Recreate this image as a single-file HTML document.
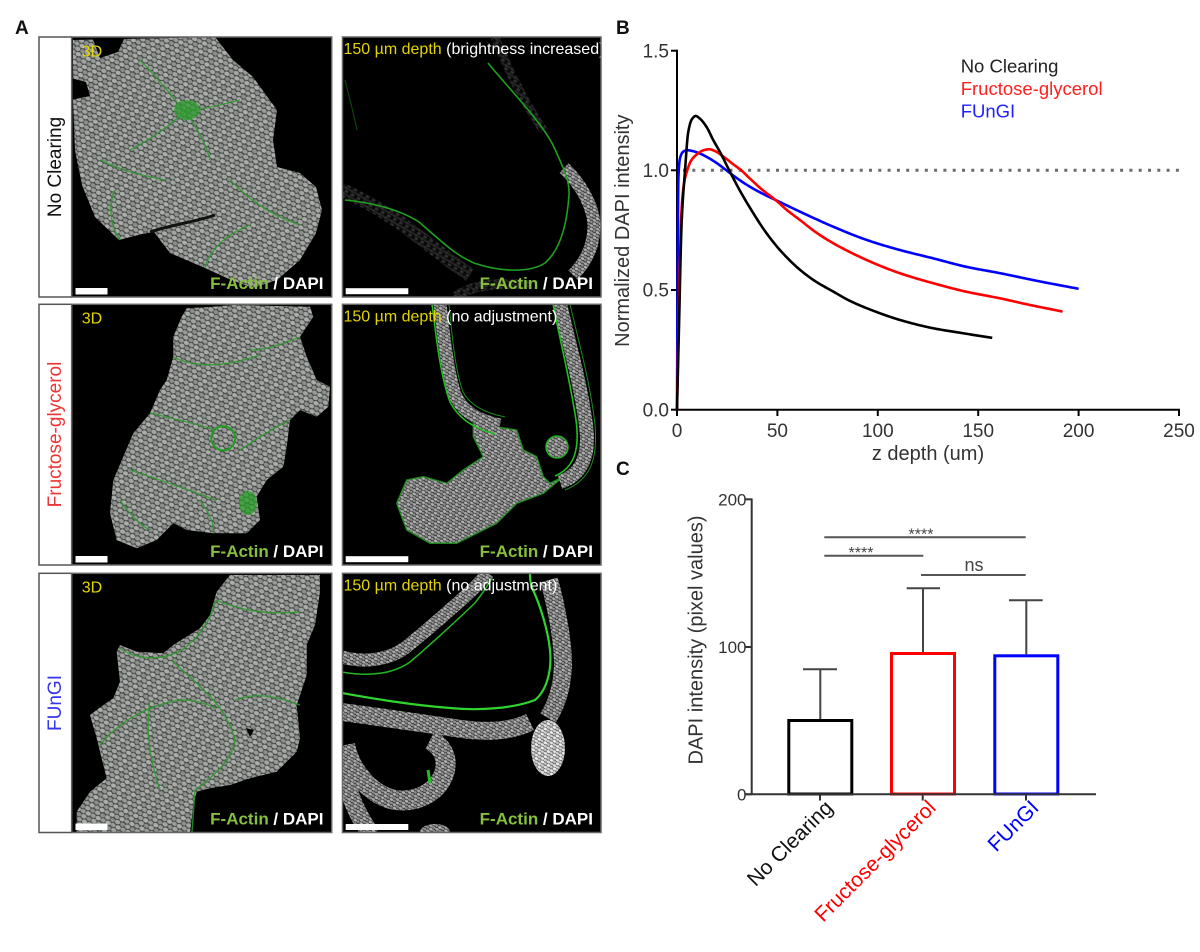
<!DOCTYPE html>
<html><head><meta charset="utf-8">
<style>
html,body{margin:0;padding:0;background:#fff;}
svg{display:block;}
text{font-family:"Liberation Sans",Arial,sans-serif;}
</style></head><body>
<svg width="1200" height="952" viewBox="0 0 1200 952" xmlns="http://www.w3.org/2000/svg">
<defs>
<pattern id="nuc" width="11" height="9" patternUnits="userSpaceOnUse" patternTransform="rotate(25)">
<rect width="11" height="9" fill="#424b42"/>
<ellipse cx="3" cy="2.4" rx="2.8" ry="2.1" fill="#a4a4a4"/>
<ellipse cx="8.6" cy="2.6" rx="2.4" ry="2" fill="#8e8e8e"/>
<ellipse cx="0.2" cy="6.9" rx="2.6" ry="2" fill="#9a9a9a"/>
<ellipse cx="11.2" cy="6.9" rx="2.6" ry="2" fill="#9a9a9a"/>
<ellipse cx="5.8" cy="7" rx="2.7" ry="2.1" fill="#acacac"/>
</pattern>
<pattern id="nuc2" width="7" height="6" patternUnits="userSpaceOnUse" patternTransform="rotate(30)">
<rect width="7" height="6" fill="#262626"/>
<ellipse cx="2" cy="1.6" rx="1.9" ry="1.4" fill="#a6a6a6"/>
<ellipse cx="5.5" cy="1.7" rx="1.6" ry="1.3" fill="#8e8e8e"/>
<ellipse cx="3.7" cy="4.6" rx="1.9" ry="1.4" fill="#b0b0b0"/>
<ellipse cx="0" cy="4.6" rx="1.4" ry="1.3" fill="#909090"/>
<ellipse cx="7" cy="4.6" rx="1.4" ry="1.3" fill="#909090"/>
</pattern>
<pattern id="nucB" width="7" height="6" patternUnits="userSpaceOnUse" patternTransform="rotate(30)">
<rect width="7" height="6" fill="#555"/>
<ellipse cx="2" cy="1.6" rx="1.9" ry="1.4" fill="#e0e0e0"/>
<ellipse cx="5.5" cy="1.7" rx="1.6" ry="1.3" fill="#cfcfcf"/>
<ellipse cx="3.7" cy="4.6" rx="1.9" ry="1.4" fill="#ececec"/>
<ellipse cx="0" cy="4.6" rx="1.4" ry="1.3" fill="#c8c8c8"/>
<ellipse cx="7" cy="4.6" rx="1.4" ry="1.3" fill="#c8c8c8"/>
</pattern>
<pattern id="nucD" width="7" height="6" patternUnits="userSpaceOnUse" patternTransform="rotate(30)">
<rect width="7" height="6" fill="#080808"/>
<ellipse cx="2" cy="1.6" rx="1.9" ry="1.4" fill="#2a2a2a"/>
<ellipse cx="5.5" cy="1.7" rx="1.6" ry="1.3" fill="#222"/>
<ellipse cx="3.7" cy="4.6" rx="1.9" ry="1.4" fill="#303030"/>
</pattern>
</defs>

<!-- Panel letters -->
<text x="15" y="34" font-size="19" font-weight="bold" fill="#111">A</text>
<text x="616" y="34" font-size="19" font-weight="bold" fill="#111">B</text>
<text x="616" y="475" font-size="19" font-weight="bold" fill="#111">C</text>

<!-- ===== Panel A ===== -->
<rect x="39" y="37" width="32.7" height="260" fill="#fff" stroke="#555" stroke-width="1.5"/>
<rect x="39" y="304.3" width="32.7" height="260.7" fill="#fff" stroke="#555" stroke-width="1.5"/>
<rect x="39" y="573.3" width="32.7" height="259.2" fill="#fff" stroke="#555" stroke-width="1.5"/>
<text transform="translate(61,167) rotate(-90)" text-anchor="middle" font-size="19" fill="#111">No Clearing</text>
<text transform="translate(61,434.5) rotate(-90)" text-anchor="middle" font-size="19" fill="#ee3535">Fructose-glycerol</text>
<text transform="translate(61,703) rotate(-90)" text-anchor="middle" font-size="19" fill="#3535ee">FUnGI</text>

<!-- Row 1 image 1 -->
<svg x="71.7" y="37" width="260" height="260" viewBox="71.7 37 260 260">
<rect x="71.7" y="37" width="260" height="260" fill="#000"/>
<path d="M73,40 L215,37 L233,60 L253,77 L277,110 L273,140 L277,167 L300,173 L316,187 L322,210 L316,233 L300,260 L277,280 L253,288 L229,279 L205,268 L170,253 L154,232 L142,234 L119,240 L95,217 L82,185 L75,150 L73,100 Z" fill="url(#nuc)"/>
<path d="M92,37 L125,37 L118,52 L100,58 Z" fill="#000"/>
<path d="M71,78 L86,82 L90,96 L71,100 Z" fill="#000"/>
<path d="M150,232 C170,225 195,222 215,215" stroke="#111" stroke-width="3" fill="none"/>
<ellipse cx="187" cy="110" rx="13" ry="10" fill="#2c9e2c" opacity="0.75"/>
<g stroke="#2a9a2a" stroke-width="1.4" fill="none" opacity="0.85">
<path d="M140,60 C160,80 175,100 185,112 C195,125 205,140 210,160"/>
<path d="M185,112 C170,125 150,140 130,150"/>
<path d="M185,112 C200,110 220,105 240,100"/>
<path d="M100,160 C120,170 140,175 165,180"/>
<path d="M230,180 C250,200 270,215 300,225"/>
<path d="M120,240 C110,225 108,205 115,190"/>
<path d="M205,268 C210,250 225,235 250,225"/>
</g>
</svg>
<rect x="71.7" y="37" width="260" height="260" fill="none" stroke="#666" stroke-width="1.5"/>
<text x="81.7" y="56.3" font-size="16" fill="#e6d600">3D</text>
<text x="323.5" y="289" font-size="17" font-weight="bold" text-anchor="end"><tspan fill="#86c03c">F-Actin</tspan><tspan fill="#fff"> / DAPI</tspan></text>
<rect x="75.5" y="288" width="32" height="6.5" fill="#fff"/>

<!-- Row 1 image 2 -->
<svg x="342.5" y="37" width="258.5" height="260" viewBox="342.5 37 258.5 260">
<rect x="342.5" y="37" width="258.5" height="260" fill="#000"/>
<path d="M342,190 C365,200 390,215 410,230 C430,245 450,262 470,275" stroke="url(#nucD)" stroke-width="14" fill="none"/>
<path d="M455,297 C470,285 500,282 530,285" stroke="url(#nucD)" stroke-width="10" fill="none"/>
<path d="M495,37 C508,70 523,100 543,130" stroke="url(#nucD)" stroke-width="9" fill="none"/>
<path d="M564,168 C580,183 593,205 594,225 C594,245 586,262 573,275" stroke="url(#nuc2)" stroke-width="13" fill="none"/>
<path d="M488,63 C510,90 540,120 553,145 C562,165 570,180 569,195 C567,225 560,250 545,263 C530,273 500,272 474,263 C455,255 440,240 419,222 C400,210 375,203 345,200" stroke="#20a020" stroke-width="1.6" fill="none"/>
<path d="M345,80 C350,100 354,115 357,130" stroke="#105010" stroke-width="1" fill="none"/>
<text x="343.5" y="54" font-size="16"><tspan fill="#e3d400">150 µm depth</tspan><tspan fill="#fff"> (brightness increased)</tspan></text>
</svg>
<rect x="342.5" y="37" width="258.5" height="260" fill="none" stroke="#666" stroke-width="1.5"/>
<text x="593" y="289" font-size="17" font-weight="bold" text-anchor="end"><tspan fill="#86c03c">F-Actin</tspan><tspan fill="#fff"> / DAPI</tspan></text>
<rect x="345.7" y="288.2" width="62.6" height="6" fill="#fff"/>

<!-- Row 2 image 1 -->
<svg x="71.7" y="304.3" width="260" height="260.7" viewBox="71.7 304.3 260 260.7">
<rect x="71.7" y="304.3" width="260" height="260.7" fill="#000"/>
<path d="M186.7,308.3 L213.3,306.7 L233.3,305 L310,306.7 L313.3,316.7 L300,336.7 L306.7,356.7 L316.7,380 L330,386.7 L328.3,406.7 L316.7,416.7 L300,410 L290,420 L286.7,446.7 L283.3,466.7 L266.7,480 L256.7,496.7 L260,520 L246.7,533.3 L213.3,533.3 L186.7,530 L173.3,523.3 L156.7,540 L136.7,548.3 L116.7,540 L110,513.3 L113.3,480 L133.3,433.3 L150,413.3 L160,390 L166.7,380 L173.3,356.7 L173.3,336.7 L181.7,316.7 Z" fill="url(#nuc)"/>
<circle cx="223.3" cy="438.3" r="12" fill="none" stroke="#1f9f1f" stroke-width="2"/>
<ellipse cx="248" cy="503" rx="9" ry="12" fill="#1f9f1f" opacity="0.7"/>
<g stroke="#2a9a2a" stroke-width="1.4" fill="none" opacity="0.85">
<path d="M173,357 C200,370 230,365 260,355"/>
<path d="M150,413 C180,420 200,425 215,430"/>
<path d="M130,470 C160,480 190,490 215,500"/>
<path d="M290,420 C270,430 255,440 240,450"/>
<path d="M200,500 C210,515 215,525 213,533"/>
<path d="M300,337 C280,345 265,350 250,350"/>
<path d="M120,500 C130,515 140,525 150,530"/>
</g>
</svg>
<rect x="71.7" y="304.3" width="260" height="260.7" fill="none" stroke="#666" stroke-width="1.5"/>
<text x="81.7" y="323.6" font-size="16" fill="#e6d600">3D</text>
<text x="323.5" y="557" font-size="17" font-weight="bold" text-anchor="end"><tspan fill="#86c03c">F-Actin</tspan><tspan fill="#fff"> / DAPI</tspan></text>
<rect x="75.5" y="556" width="32" height="6.5" fill="#fff"/>

<!-- Row 2 image 2 -->
<svg x="342.5" y="304.3" width="258.5" height="260.7" viewBox="342.5 304.3 258.5 260.7">
<rect x="342.5" y="304.3" width="258.5" height="260.7" fill="#000"/>
<path d="M473.3,423.3 L516.7,430 L523.3,450 L536.7,456.7 L543.3,476.7 L550,483.3 L563.3,476.7 L543.3,493.3 L516.7,503.3 L496.7,523.3 L476.7,533.3 L456.7,543.3 L430,543.3 L406.7,530 L396.7,503.3 L406.7,480 L423.3,476.7 L446.7,483.3 L463.3,470 L483.3,456.7 L473.3,436.7 Z" fill="url(#nuc2)" stroke="#1d9e1d" stroke-width="1.5" stroke-opacity="0.8"/>
<path d="M440,304 C443,330 447,370 455,395 C462,410 475,420 500,425" stroke="url(#nuc2)" stroke-width="13" fill="none"/>
<path d="M432,304 C436,335 440,375 450,402 C458,417 470,427 495,434" stroke="#22c022" stroke-width="1.5" fill="none"/>
<path d="M449,304 C452,335 455,370 463,392 C470,405 485,413 505,417" stroke="#1a8a1a" stroke-width="1" fill="none"/>
<path d="M560,304 C568,340 580,380 586,425 C590,455 582,475 560,482" stroke="url(#nuc2)" stroke-width="14" fill="none"/>
<path d="M553,304 C560,340 570,380 576,420 C580,450 574,468 555,476" stroke="#22c022" stroke-width="1.6" fill="none"/>
<path d="M570,304 C578,340 590,380 595,425 C598,460 590,480 565,490" stroke="#1a8a1a" stroke-width="1" fill="none"/>
<circle cx="557" cy="447" r="11" fill="url(#nuc2)" stroke="#22b022" stroke-width="1.5"/>
</svg>
<rect x="342.5" y="304.3" width="258.5" height="260.7" fill="none" stroke="#666" stroke-width="1.5"/>
<text x="343.5" y="321.3" font-size="16"><tspan fill="#e3d400">150 µm depth</tspan><tspan fill="#fff"> (no adjustment)</tspan></text>
<text x="593" y="557" font-size="17" font-weight="bold" text-anchor="end"><tspan fill="#86c03c">F-Actin</tspan><tspan fill="#fff"> / DAPI</tspan></text>
<rect x="345.7" y="556.2" width="62.6" height="6" fill="#fff"/>

<!-- Row 3 image 1 -->
<svg x="71.7" y="573.3" width="260" height="259.2" viewBox="71.7 573.3 260 259.2">
<rect x="71.7" y="573.3" width="260" height="259.2" fill="#000"/>
<path d="M230,575 L320,575 L320,591.7 L315,625 L306.7,645 L306.7,675 L296.7,705 L300,738.3 L296.7,751.7 L276.7,771.7 L250,778.3 L230,785 L210,788.3 L196.7,791.7 L193.3,805 L190,833 L76.7,833 L76.7,811.7 L90,791.7 L106.7,778.3 L100,751.7 L96.7,738.3 L90,715 L103.3,705 L113.3,698.3 L120,681.7 L116.7,651.7 L120,645 L136.7,651.7 L163.3,653.3 L173.3,645 L200,628.3 L210,615 L216.7,591.7 Z" fill="url(#nuc)"/>
<path d="M246,728 L254,730 L250,737 Z" fill="#000"/>
<g stroke="#2a9a2a" stroke-width="1.4" fill="none" opacity="0.85">
<path d="M120,648 C135,660 165,662 185,648 C200,635 210,622 216,600"/>
<path d="M172,660 C190,680 225,700 235,740 C232,760 215,775 195,790 L192,832"/>
<path d="M100,745 C120,720 150,705 180,700 C195,700 205,703 215,708"/>
<path d="M235,700 C260,690 285,700 300,705"/>
<path d="M216,600 C240,610 265,615 300,612"/>
<path d="M150,700 C145,730 150,760 160,790"/>
</g>
</svg>
<rect x="71.7" y="573.3" width="260" height="259.2" fill="none" stroke="#666" stroke-width="1.5"/>
<text x="81.7" y="592.6" font-size="16" fill="#e6d600">3D</text>
<text x="323.5" y="824.5" font-size="17" font-weight="bold" text-anchor="end"><tspan fill="#86c03c">F-Actin</tspan><tspan fill="#fff"> / DAPI</tspan></text>
<rect x="75.5" y="823.5" width="32" height="6.5" fill="#fff"/>

<!-- Row 3 image 2 -->
<svg x="342.5" y="573.3" width="258.5" height="259.2" viewBox="342.5 573.3 258.5 259.2">
<rect x="342.5" y="573.3" width="258.5" height="259.2" fill="#000"/>
<path d="M342,657 C360,662 385,662 405,648 C425,632 450,610 470,592 C478,584 484,578 488,573" stroke="url(#nuc2)" stroke-width="13" fill="none"/>
<path d="M342,672 C365,676 390,676 410,662 C430,645 455,622 475,603 C482,594 488,585 492,578" stroke="#22b822" stroke-width="1.5" fill="none"/>
<path d="M342,712 C380,717 420,723 455,728 C485,733 510,732 530,722" stroke="url(#nuc2)" stroke-width="18" fill="none"/>
<path d="M342,693 C370,698 410,705 450,708 C480,711 515,708 535,700 C547,690 552,670 550,650 C548,630 540,605 533,590 C530,583 530,578 530,573" stroke="#2fd42f" stroke-width="2.2" fill="none"/>
<path d="M549,580 C556,605 563,640 563,665 C562,690 556,705 548,718" stroke="url(#nuc2)" stroke-width="18" fill="none"/>
<ellipse cx="548" cy="748" rx="17" ry="28" fill="url(#nucB)"/>
<path d="M345,745 C350,770 370,795 395,800 C420,803 440,790 445,770 C448,755 440,745 430,740" stroke="url(#nuc2)" stroke-width="20" fill="none"/>
<path d="M343,770 C350,800 360,820 372,835" stroke="url(#nuc2)" stroke-width="18" fill="none"/>
<path d="M428,770 L430,783" stroke="#22c022" stroke-width="3" fill="none"/>
<ellipse cx="435" cy="832" rx="15" ry="8" fill="url(#nuc2)"/>
</svg>
<rect x="342.5" y="573.3" width="258.5" height="259.2" fill="none" stroke="#666" stroke-width="1.5"/>
<text x="343.5" y="590.3" font-size="16"><tspan fill="#e3d400">150 µm depth</tspan><tspan fill="#fff"> (no adjustment)</tspan></text>
<text x="593" y="824.5" font-size="17" font-weight="bold" text-anchor="end"><tspan fill="#86c03c">F-Actin</tspan><tspan fill="#fff"> / DAPI</tspan></text>
<rect x="345.7" y="824" width="62.6" height="6" fill="#fff"/>

<!-- ===== Panel B ===== -->
<line x1="683" y1="170.3" x2="1179" y2="170.3" stroke="#6b6b6b" stroke-width="3" stroke-dasharray="3 6.3"/>
<g stroke="#000" stroke-width="2" fill="none">
<line x1="677" y1="49.7" x2="677" y2="410.7"/>
<line x1="676" y1="409.7" x2="1180" y2="409.7"/>
<line x1="671" y1="50.7" x2="677" y2="50.7"/>
<line x1="671" y1="170.3" x2="677" y2="170.3"/>
<line x1="671" y1="290" x2="677" y2="290"/>
<line x1="671" y1="409.7" x2="677" y2="409.7"/>
<line x1="677" y1="409.7" x2="677" y2="416"/>
<line x1="777.4" y1="409.7" x2="777.4" y2="416"/>
<line x1="877.8" y1="409.7" x2="877.8" y2="416"/>
<line x1="978.2" y1="409.7" x2="978.2" y2="416"/>
<line x1="1078.6" y1="409.7" x2="1078.6" y2="416"/>
<line x1="1179" y1="409.7" x2="1179" y2="416"/>
</g>
<g font-size="19" fill="#333" text-anchor="end">
<text x="669" y="57.5">1.5</text>
<text x="669" y="177">1.0</text>
<text x="669" y="296.7">0.5</text>
<text x="669" y="416.4">0.0</text>
</g>
<g font-size="19" fill="#333" text-anchor="middle">
<text x="677" y="437">0</text>
<text x="777.4" y="437">50</text>
<text x="877.8" y="437">100</text>
<text x="978.2" y="437">150</text>
<text x="1078.6" y="437">200</text>
<text x="1179" y="437">250</text>
</g>
<text x="928" y="460" font-size="20" fill="#333" text-anchor="middle">z depth (um)</text>
<text transform="translate(629,230.7) rotate(-90)" font-size="20" fill="#333" text-anchor="middle">Normalized DAPI intensity</text>
<text x="960.7" y="72.7" font-size="18.5" fill="#222">No Clearing</text>
<text x="960.7" y="95" font-size="18.5" fill="#ff2020">Fructose-glycerol</text>
<text x="960.7" y="117.3" font-size="18.5" fill="#2020ff">FUnGI</text>
<path id="cBlue" d="" stroke="#0000ff" stroke-width="2.6" fill="none" stroke-linejoin="round"/>
<path id="cRed" d="" stroke="#ff0000" stroke-width="2.6" fill="none" stroke-linejoin="round"/>
<path id="cBlack" d="" stroke="#000" stroke-width="2.6" fill="none" stroke-linejoin="round"/>

<!-- ===== Panel C ===== -->
<g stroke="#333" stroke-width="2" fill="none">
<line x1="751.7" y1="498.5" x2="751.7" y2="795"/>
<line x1="745" y1="499.3" x2="752" y2="499.3"/>
<line x1="745" y1="647" x2="752" y2="647"/>
<line x1="745" y1="794.3" x2="752" y2="794.3"/>
<line x1="820" y1="794" x2="820" y2="800.5"/>
<line x1="922.7" y1="794" x2="922.7" y2="800.5"/>
<line x1="1026" y1="794" x2="1026" y2="800.5"/>
</g>
<g font-size="17" fill="#333" text-anchor="end">
<text x="746.5" y="505.5">200</text>
<text x="746.5" y="653">100</text>
<text x="746.5" y="800.3">0</text>
</g>
<text transform="translate(702.4,640) rotate(-90)" font-size="20" fill="#333" text-anchor="middle">DAPI intensity (pixel values)</text>
<g stroke="#444" stroke-width="2" fill="none">
<line x1="820.3" y1="719" x2="820.3" y2="669.3"/>
<line x1="803" y1="669.3" x2="837" y2="669.3"/>
<line x1="923" y1="652" x2="923" y2="588.3"/>
<line x1="906.7" y1="588.3" x2="940" y2="588.3"/>
<line x1="1026.3" y1="654.3" x2="1026.3" y2="600.3"/>
<line x1="1009" y1="600.3" x2="1042.7" y2="600.3"/>
</g>
<rect x="788.8" y="720.5" width="63" height="73.5" fill="none" stroke="#000" stroke-width="3"/>
<rect x="891.5" y="653.5" width="63" height="140.5" fill="none" stroke="#ff0000" stroke-width="3"/>
<rect x="994.8" y="655.8" width="63" height="138.2" fill="none" stroke="#0000ff" stroke-width="3"/>
<line x1="745" y1="794.3" x2="1096" y2="794.3" stroke="#333" stroke-width="2"/>
<g stroke="#555" stroke-width="2">
<line x1="824.3" y1="537.3" x2="1025.7" y2="537.3"/>
<line x1="824.3" y1="555.7" x2="923.3" y2="555.7"/>
<line x1="921" y1="575" x2="1025.7" y2="575"/>
</g>
<text x="921" y="539.5" font-size="16" fill="#444" text-anchor="middle">****</text>
<text x="861" y="558" font-size="16" fill="#444" text-anchor="middle">****</text>
<text x="974" y="571" font-size="18" fill="#444" text-anchor="middle">ns</text>
<text x="834" y="809" font-size="21" fill="#111" text-anchor="end" transform="rotate(-45 834 809)">No Clearing</text>
<text x="937" y="809" font-size="21" fill="#ff0000" text-anchor="end" transform="rotate(-45 937 809)">Fructose-glycerol</text>
<text x="1040" y="809" font-size="21" fill="#0000ff" text-anchor="end" transform="rotate(-45 1040 809)">FUnGI</text>
</svg>
<script>
(function(){
var X=function(z){return 677+z*2.008;},Y=function(v){return 409.7-v*239.4;};
function mono(pts){
  var n=pts.length,xs=[],ys=[],d=[],m=[];
  for(var i=0;i<n;i++){xs.push(pts[i][0]);ys.push(pts[i][1]);}
  for(i=0;i<n-1;i++){d.push((ys[i+1]-ys[i])/(xs[i+1]-xs[i]));}
  m[0]=d[0];m[n-1]=d[n-2];
  for(i=1;i<n-1;i++){
    if(d[i-1]*d[i]<=0){m[i]=0;}
    else{var h0=xs[i]-xs[i-1],h1=xs[i+1]-xs[i];var w1=2*h1+h0,w2=h1+2*h0;m[i]=(w1+w2)/(w1/d[i-1]+w2/d[i]);}
  }
  return function(z){
    var k=0;while(k<n-2&&z>xs[k+1])k++;
    var h=xs[k+1]-xs[k],t=(z-xs[k])/h,t2=t*t,t3=t2*t;
    return (2*t3-3*t2+1)*ys[k]+(t3-2*t2+t)*h*m[k]+(-2*t3+3*t2)*ys[k+1]+(t3-t2)*h*m[k+1];
  };
}
function path(pts){
  var f=mono(pts),zEnd=pts[pts.length-1][0],d='M'+X(0).toFixed(2)+','+Y(0).toFixed(2);
  var z=0;
  while(z<zEnd){
    z+= (z<3?0.05:(z<20?0.2:0.8));
    if(z>zEnd)z=zEnd;
    d+=' L'+X(z).toFixed(2)+','+Y(f(z)).toFixed(2);
  }
  return d;
}
var black=[[0,0],[1,0.35],[2.3,0.78],[4,1.0],[5.6,1.16],[7.4,1.213],[9.3,1.227],[11.5,1.215],[14.8,1.18],[18,1.127],[21.5,1.075],[26,1.0],[31,0.92],[36,0.848],[44.6,0.737],[52,0.66],[61.3,0.584],[69,0.536],[77.9,0.493],[86,0.455],[94.5,0.424],[111,0.375],[127.7,0.34],[142,0.32],[157,0.30]];
var red=[[0,0],[0.7,0.33],[1.5,0.63],[2.3,0.84],[3.5,0.945],[5.1,1.0],[7,1.04],[9.8,1.066],[13,1.083],[16,1.088],[19,1.08],[23,1.058],[28,1.025],[32,1.0],[36,0.968],[42,0.922],[49.6,0.872],[55,0.832],[61.3,0.792],[69,0.742],[77.9,0.695],[94.5,0.625],[111,0.57],[127.7,0.528],[144,0.493],[161,0.465],[176,0.437],[192,0.41]];
var blue=[[0,0],[0.3,0.55],[0.7,0.97],[1.5,1.05],[3,1.077],[5,1.084],[8,1.08],[11.4,1.07],[15,1.055],[19.8,1.03],[25.5,0.994],[30,0.966],[35,0.938],[42,0.905],[49.6,0.874],[61.3,0.827],[77.9,0.764],[94.5,0.709],[111,0.667],[127.7,0.632],[144,0.597],[161,0.570],[180,0.537],[200,0.505]];
document.getElementById('cBlack').setAttribute('d',path(black));
document.getElementById('cRed').setAttribute('d',path(red));
document.getElementById('cBlue').setAttribute('d',path(blue));
})();
</script>
</body></html>
